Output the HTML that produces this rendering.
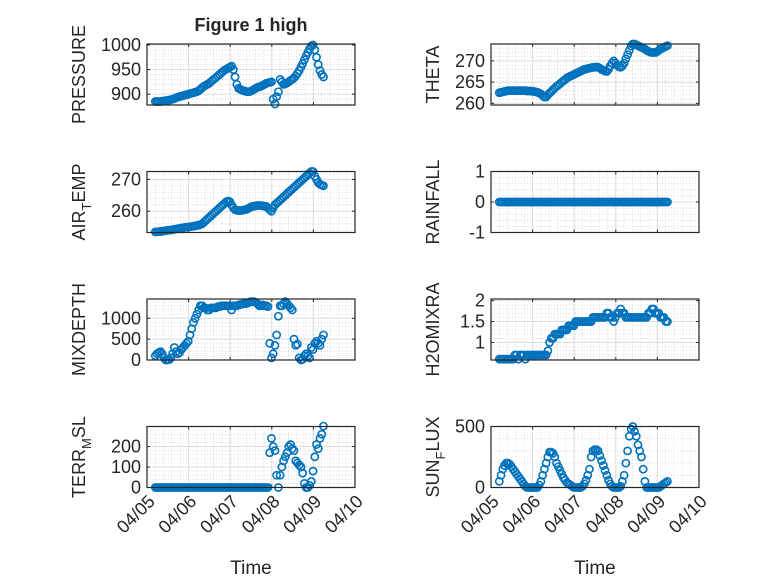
<!DOCTYPE html>
<html><head><meta charset="utf-8"><style>
body{margin:0;background:#fff;}
svg text{font-family:"Liberation Sans","DejaVu Sans",sans-serif;fill:#262626;}
</style></head><body>
<svg id="fig" width="778" height="583" xmlns="http://www.w3.org/2000/svg">
<rect width="778" height="583" fill="#fff"/>
</svg>
<script>
const dayTicks = ['04/05','04/06','04/07','04/08','04/09','04/10'];
const pressure = [885,885,885,885,886,886,887,887,888,889,890,891,893,894,895,896,897,898,899,900,
901,902,903,904,905,907,910,913,916,918,920,922,925,928,931,934,937,940,943,946,949,951,953,955,
957,950,935,920,912,910,908,907,906,905,905,906,908,910,912,914,915,916,918,920,922,923,924,925,
890,880,895,905,930,925,920,921,923,925,928,930,933,937,942,948,955,962,970,978,985,992,998,1000,
990,975,960,948,940,935];
const theta = [262.5,262.6,262.7,262.8,262.9,263,263,263,263,263,263,263,263,263,263,263,262.9,262.9,262.9,262.8,
262.8,262.7,262.6,262.4,262.2,261.8,261.5,261.5,262,262.4,262.8,263.2,263.6,264,264.3,264.6,265,265.3,265.6,266,266.2,266.4,266.6,266.8,
267,267.2,267.4,267.6,267.8,268,268.1,268.2,268.3,268.4,268.5,268.5,268.6,268.5,268.3,268,267.8,267.6,267.5,268,268.8,269.5,270,269.5,
269,268.6,268.5,268.8,269.5,270.5,271.5,272.5,273.5,274,274,273.8,273.6,273.4,273.2,273,272.8,272.5,272.3,272.1,272,272,272,272.2,
272.5,272.8,273,273.2,273.4,273.6];
const airTemp = [253.5,253.5,253.6,253.6,253.7,253.8,253.9,254,254,254.1,254.2,254.3,254.4,254.5,254.6,254.7,254.8,254.9,255,255,
255.1,255.2,255.3,255.4,255.5,255.6,255.8,256,256.5,257,257.5,258,258.5,259,259.5,260,260.5,261,261.5,262,262.5,263,263.2,263,
262,261,260.5,260.3,260.2,260.2,260.3,260.4,260.5,260.7,261,261.3,261.5,261.6,261.7,261.8,261.8,261.8,261.7,261.6,261.5,261,260.5,260,
261,262,262.5,263,263.5,264,264.5,265,265.5,266,266.5,267,267.5,268,268.5,269,269.5,270,270.5,271,271.5,272,272.5,272.5,
271,270,269,268.5,268.2,268];
const rainfall = new Array(98).fill(0);
const mixDepth = [100,150,180,200,150,50,0,0,10,50,150,300,200,150,180,250,300,350,400,450,
600,750,900,1000,1100,1200,1300,1300,1250,1250,1200,1200,1250,1250,1250,1250,1280,1280,1300,1300,1300,1300,1300,1300,
1200,1300,1300,1300,1320,1330,1340,1350,1350,1360,1380,1400,1400,1400,1380,1350,1300,1300,1320,1300,1300,1280,400,50,
150,350,600,1050,1300,1300,1350,1400,1350,1300,1250,1200,500,350,380,50,0,20,100,150,100,50,300,250,
400,450,400,350,500,600];
const h2o = [0.6,0.6,0.6,0.6,0.6,0.6,0.6,0.6,0.6,0.7,0.7,0.6,0.7,0.7,0.7,0.6,0.7,0.7,0.7,0.7,
0.7,0.7,0.7,0.7,0.7,0.7,0.7,0.7,0.8,1.0,1.1,1.1,1.2,1.2,1.2,1.2,1.3,1.3,1.3,1.3,1.4,1.4,1.4,1.4,
1.5,1.5,1.5,1.5,1.5,1.5,1.5,1.5,1.5,1.5,1.6,1.6,1.6,1.6,1.6,1.6,1.6,1.6,1.7,1.7,1.6,1.6,1.5,1.6,
1.7,1.7,1.8,1.7,1.7,1.6,1.6,1.6,1.6,1.6,1.6,1.6,1.6,1.6,1.6,1.6,1.6,1.6,1.7,1.7,1.8,1.8,1.7,1.7,
1.7,1.6,1.6,1.6,1.5,1.5];
const terr = [0,0,0,0,0,0,0,0,0,0,0,0,0,0,0,0,0,0,0,0,0,0,0,0,0,0,0,0,0,0,0,0,0,0,0,0,0,0,0,0,0,0,0,0,
0,0,0,0,0,0,0,0,0,0,0,0,0,0,0,0,0,0,0,0,0,0,170,240,
200,180,60,0,60,100,130,150,170,200,210,190,180,130,120,110,100,70,20,0,0,10,30,80,
150,210,190,240,260,300];
const sun = [50,100,150,180,200,200,190,170,150,130,110,90,70,50,30,10,0,0,0,0,
0,0,0,20,50,100,150,200,250,290,290,280,250,200,170,140,110,80,60,40,30,20,10,0,
0,0,0,0,10,30,60,100,150,250,300,310,310,300,260,220,180,140,100,60,30,10,0,0,
0,0,10,50,100,200,300,420,480,500,460,420,350,300,250,150,50,0,0,0,0,0,0,0,
0,10,20,30,40,50];
const tStart = 0.2, tStep = 1/24;

const NS='http://www.w3.org/2000/svg';
const svg=document.getElementById('fig');
function mk(tag,attrs,parent){const e=document.createElementNS(NS,tag);for(const k in attrs)e.setAttribute(k,attrs[k]);(parent||svg).appendChild(e);return e;}

const panels=[
 {name:'pressure',label:['PRESSURE'],data:pressure,ylim:[878,1002],ticks:[900,950,1000],col:0,row:0},
 {name:'theta',label:['THETA'],data:theta,ylim:[259.6,274],ticks:[260,265,270],col:1,row:0},
 {name:'air-temp',label:['AIR','T','EMP'],data:airTemp,ylim:[253.3,272.5],ticks:[260,270],col:0,row:1},
 {name:'rainfall',label:['RAINFALL'],data:rainfall,ylim:[-1,1],ticks:[-1,0,1],col:1,row:1},
 {name:'mixdepth',label:['MIXDEPTH'],data:mixDepth,ylim:[0,1463],ticks:[0,500,1000],col:0,row:2},
 {name:'h2omixra',label:['H2OMIXRA'],data:h2o,ylim:[0.58,2.04],ticks:[1,1.5,2],col:1,row:2},
 {name:'terr-msl',label:['TERR','M','SL'],data:terr,ylim:[0,298],ticks:[0,100,200],col:0,row:3},
 {name:'sun-flux',label:['SUN','F','LUX'],data:sun,ylim:[0,500],ticks:[0,500],col:1,row:3}
];
const colX=[[147,355],[491,699]];
const rowY=[44,171.5,299,426.5];
const H=61;

panels.forEach(p=>{
  const [x0,x1]=colX[p.col]; const y0=rowY[p.row], y1=y0+H;
  const g=mk('g',{});
  
  
  const xs=d=>x0+(x1-x0)*d/5;
  const ys=v=>y1-(v-p.ylim[0])/(p.ylim[1]-p.ylim[0])*H;
  mk('rect',{x:x0,y:y0,width:x1-x0,height:H,fill:'#fff'},g);
  for(let d=0;d<5;d+=0.2){if(Math.abs(d-Math.round(d))<1e-6)continue;
    mk('line',{x1:xs(d),x2:xs(d),y1:y0,y2:y1,stroke:'#c8c8c8','stroke-width':0.6,'stroke-dasharray':'1,2'},g);}
  const step=p.ticks.length>1?p.ticks[1]-p.ticks[0]:500;
  const mstep=step/5;
  for(let v=Math.ceil(p.ylim[0]/mstep)*mstep; v<p.ylim[1]; v+=mstep){
    mk('line',{x1:x0,x2:x1,y1:ys(v),y2:ys(v),stroke:'#c8c8c8','stroke-width':0.6,'stroke-dasharray':'1,2'},g);}
  for(let d=1;d<5;d++) mk('line',{x1:xs(d),x2:xs(d),y1:y0,y2:y1,stroke:'#dcdcdc','stroke-width':1},g);
  p.ticks.forEach(v=>{
    mk('line',{x1:x0,x2:x1,y1:ys(v),y2:ys(v),stroke:'#dcdcdc','stroke-width':1},g);
    const t=mk('text',{x:x0-6,y:ys(v)+6,'text-anchor':'end','font-size':18},g);
    t.textContent=String(v);
    
    
    mk('line',{x1:x0,x2:x0+3,y1:ys(v),y2:ys(v),stroke:'#262626'},g);
    mk('line',{x1:x1,x2:x1-3,y1:ys(v),y2:ys(v),stroke:'#262626'},g);
  });
  for(let d=0;d<=5;d++){
    mk('line',{x1:xs(d),x2:xs(d),y1:y1,y2:y1-3,stroke:'#262626'},g);
    mk('line',{x1:xs(d),x2:xs(d),y1:y0,y2:y0+3,stroke:'#262626'},g);
  }
  p.data.forEach((v,i)=>{
    const c=mk('circle',{cx:xs(tStart+i*tStep),cy:ys(v),r:3.6,fill:'none',stroke:'#0072BD','stroke-width':1.6},g);
    
    
  });
  mk('rect',{x:x0,y:y0,width:x1-x0,height:H,fill:'none',stroke:'#262626','stroke-width':1.2},g);
  const lx=p.col===0?85:439, ly=y0+H/2;
  const yl=mk('text',{x:lx,y:ly,'text-anchor':'middle','font-size':18,transform:`rotate(-90 ${lx} ${ly})`},g);
  
  
  if(p.label.length===1){yl.textContent=p.label[0];}
  else{
    const a=mk('tspan',{},yl);a.textContent=p.label[0];
    const b=mk('tspan',{dy:6,'font-size':13},yl);b.textContent=p.label[1];
    const c=mk('tspan',{dy:-6},yl);c.textContent=p.label[2];
  }
  if(p.row===3){
    dayTicks.forEach((lab,d)=>{
      const tx=xs(d)+9, ty=y1+15;
      const t=mk('text',{x:tx,y:ty,'text-anchor':'end','font-size':18,transform:`rotate(-45 ${tx} ${ty})`},g);
      t.textContent=lab;
      
      
    });
    const xl=mk('text',{x:(x0+x1)/2,y:574,'text-anchor':'middle','font-size':19},g);
    xl.textContent='Time';
    
    
  }
});
const title=mk('text',{x:251,y:31,'text-anchor':'middle','font-size':18,'font-weight':'bold'});
title.textContent='Figure 1 high';


</script>
</body></html>
